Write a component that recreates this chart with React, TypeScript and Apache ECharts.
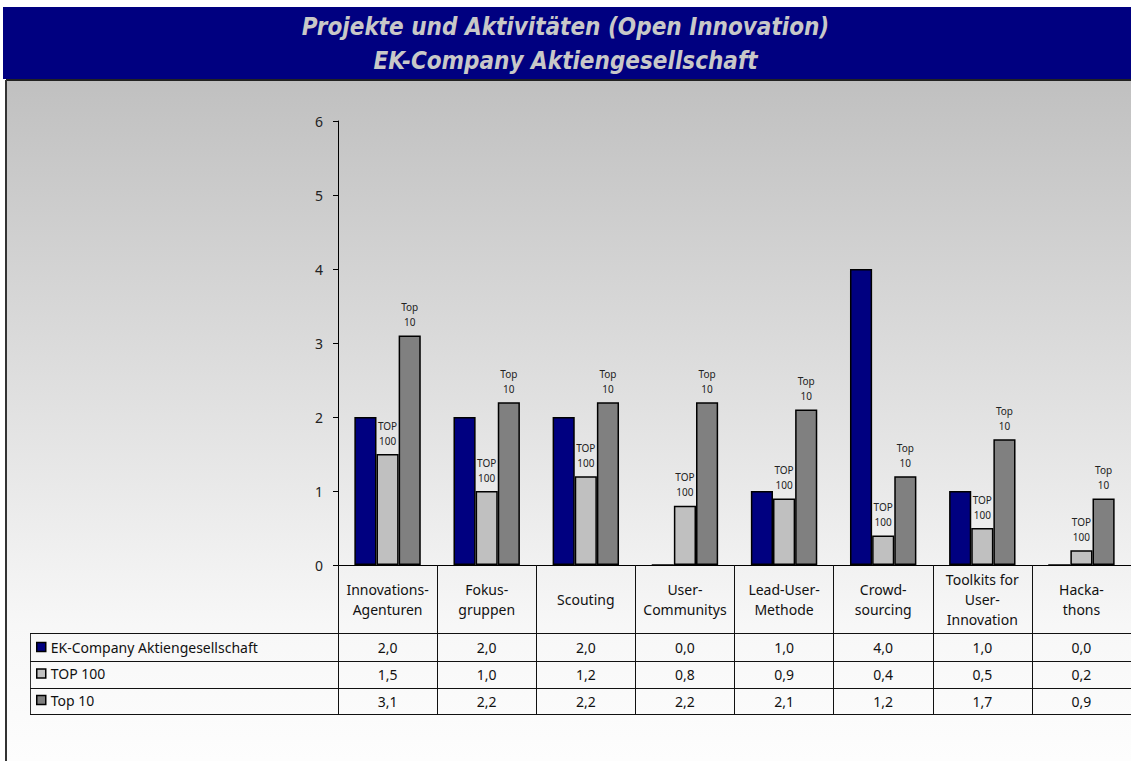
import React, { useEffect, useRef } from "react";
import * as echarts from "echarts";

const titleLines = ["Projekte und Aktivitäten (Open Innovation)", "EK-Company Aktiengesellschaft"];
const categories = [
  "Innovations-\nAgenturen",
  "Fokus-\ngruppen",
  "Scouting",
  "User-\nCommunitys",
  "Lead-User-\nMethode",
  "Crowd-\nsourcing",
  "Toolkits for\nUser-\nInnovation",
  "Hacka-\nthons",
];
const seriesNames = ["EK-Company Aktiengesellschaft", "TOP 100", "Top 10"];
const ekValues = [2.0, 2.0, 2.0, 0.0, 1.0, 4.0, 1.0, 0.0];
const top100Values = [1.5, 1.0, 1.2, 0.8, 0.9, 0.4, 0.5, 0.2];
const top10Values = [3.1, 2.2, 2.2, 2.2, 2.1, 1.2, 1.7, 0.9];
const barLabels = ["", "TOP\n100", "Top\n10"];
const seriesColors = ["#000080", "#c0c0c0", "#808080"];
const yMin = 0;
const yMax = 6;
const yInterval = 1;

const FONT = "'Noto Sans', sans-serif";
const fmt = (v: number) => v.toFixed(1).replace(".", ",");

export default function App() {
  const ref = useRef<HTMLDivElement>(null);
  useEffect(() => {
    if (!ref.current) return;
    const chart = echarts.init(ref.current, null, { renderer: "svg" });
    const allValues = [ekValues, top100Values, top10Values];
    const rowOffsets = [68, 96, 123];
    const rowHeights = [28, 27, 26];

    const rowAxes = allValues.map((vals, i) => ({
      type: "category",
      gridIndex: 0,
      position: "bottom",
      offset: rowOffsets[i],
      data: categories,
      axisLine: { show: true, lineStyle: { color: "#111", width: 1 } },
      axisTick: { show: true, interval: 0, length: rowHeights[i], lineStyle: { color: "#111", width: 1 } },
      axisLabel: {
        interval: 0,
        margin: rowHeights[i] / 2,
        verticalAlign: "middle",
        fontSize: 14,
        fontFamily: FONT,
        color: "#111",
        formatter: (_v: string, idx: number) => fmt(vals[idx]),
      },
      splitLine: { show: false },
    }));

    const option: any = {
      animation: false,
      title: {
        text: titleLines.join("\n"),
        left: "center",
        top: 10,
        padding: 0,
        textStyle: {
          color: "#c8c8c8",
          fontSize: 24,
          fontStyle: "italic",
          fontWeight: "bold",
          fontFamily: "'DejaVu Sans Condensed', 'Liberation Sans Narrow', sans-serif",
          lineHeight: 34,
        },
      },
      legend: {
        orient: "vertical",
        left: 31,
        top: 635,
        itemWidth: 9,
        itemHeight: 9,
        itemGap: 12.5,
        icon: "rect",
        itemStyle: { borderColor: "#000", borderWidth: 1.5 },
        textStyle: { fontSize: 14, fontFamily: FONT, color: "#111" },
        data: seriesNames,
      },
      grid: { left: 338, right: 0, top: 121, bottom: 196, containLabel: false },
      xAxis: [
        {
          type: "category",
          data: categories,
          position: "bottom",
          axisLine: { show: true, lineStyle: { color: "#000", width: 1 } },
          axisTick: { show: true, interval: 0, length: 68, lineStyle: { color: "#111", width: 1 } },
          axisLabel: {
            interval: 0,
            margin: 34,
            verticalAlign: "middle",
            fontSize: 14,
            lineHeight: 20,
            fontFamily: FONT,
            color: "#111",
          },
        },
        ...rowAxes,
        {
          type: "category",
          position: "bottom",
          offset: 149,
          data: categories,
          axisLine: { show: true, lineStyle: { color: "#111", width: 1 } },
          axisTick: { show: false },
          axisLabel: { show: false },
        },
      ],
      yAxis: {
        type: "value",
        min: yMin,
        max: yMax,
        interval: yInterval,
        axisLine: { show: true, lineStyle: { color: "#000", width: 1 } },
        axisTick: { show: true, length: 5, lineStyle: { color: "#000" } },
        axisLabel: { fontSize: 14, fontFamily: FONT, color: "#222", margin: 15 },
        splitLine: { show: false },
      },
      series: allValues.map((vals, i) => ({
        name: seriesNames[i],
        type: "bar",
        xAxisIndex: 0,
        data: vals,
        barGap: "0%",
        barCategoryGap: "33%",
        itemStyle: { color: seriesColors[i], borderColor: "#000", borderWidth: 1.5 },
        label: barLabels[i]
          ? {
              show: true,
              position: "top",
              distance: 6,
              formatter: barLabels[i],
              fontSize: 10,
              lineHeight: 15,
              fontFamily: FONT,
              color: "#222",
            }
          : { show: false },
      })),
      graphic: [
        {
          type: "rect",
          z: -10,
          shape: { x: 6, y: 80, width: 1125, height: 681 },
          style: {
            fill: new echarts.graphic.LinearGradient(0, 0, 0, 1, [
              { offset: 0, color: "#c0c0c0" },
              { offset: 0.8, color: "#f7f7f7" },
              { offset: 1, color: "#fdfdfd" },
            ]),
          },
        },
        { type: "rect", z: 1, shape: { x: 3, y: 7, width: 1128, height: 72 }, style: { fill: "#000080" } },
        { type: "line", z: 1, shape: { x1: 6, y1: 80, x2: 1131, y2: 80 }, style: { stroke: "#222", lineWidth: 2 } },
        { type: "line", z: 1, shape: { x1: 6, y1: 80, x2: 6, y2: 761 }, style: { stroke: "#333", lineWidth: 2 } },
        { type: "line", z: 1, shape: { x1: 30.5, y1: 633, x2: 30.5, y2: 714 }, style: { stroke: "#333", lineWidth: 1 } },
        { type: "line", z: 1, shape: { x1: 30, y1: 633.5, x2: 338, y2: 633.5 }, style: { stroke: "#111", lineWidth: 1 } },
        { type: "line", z: 1, shape: { x1: 30, y1: 661.5, x2: 338, y2: 661.5 }, style: { stroke: "#111", lineWidth: 1 } },
        { type: "line", z: 1, shape: { x1: 30, y1: 688.5, x2: 338, y2: 688.5 }, style: { stroke: "#111", lineWidth: 1 } },
        { type: "line", z: 1, shape: { x1: 30, y1: 714.5, x2: 338, y2: 714.5 }, style: { stroke: "#111", lineWidth: 1 } },
      ],
    };
    chart.setOption(option);
    return () => chart.dispose();
  }, []);
  return (
    <div
      ref={ref}
      style={{ position: "fixed", left: 0, top: 0, width: 1131, height: 761, background: "#ffffff" }}
    />
  );
}
